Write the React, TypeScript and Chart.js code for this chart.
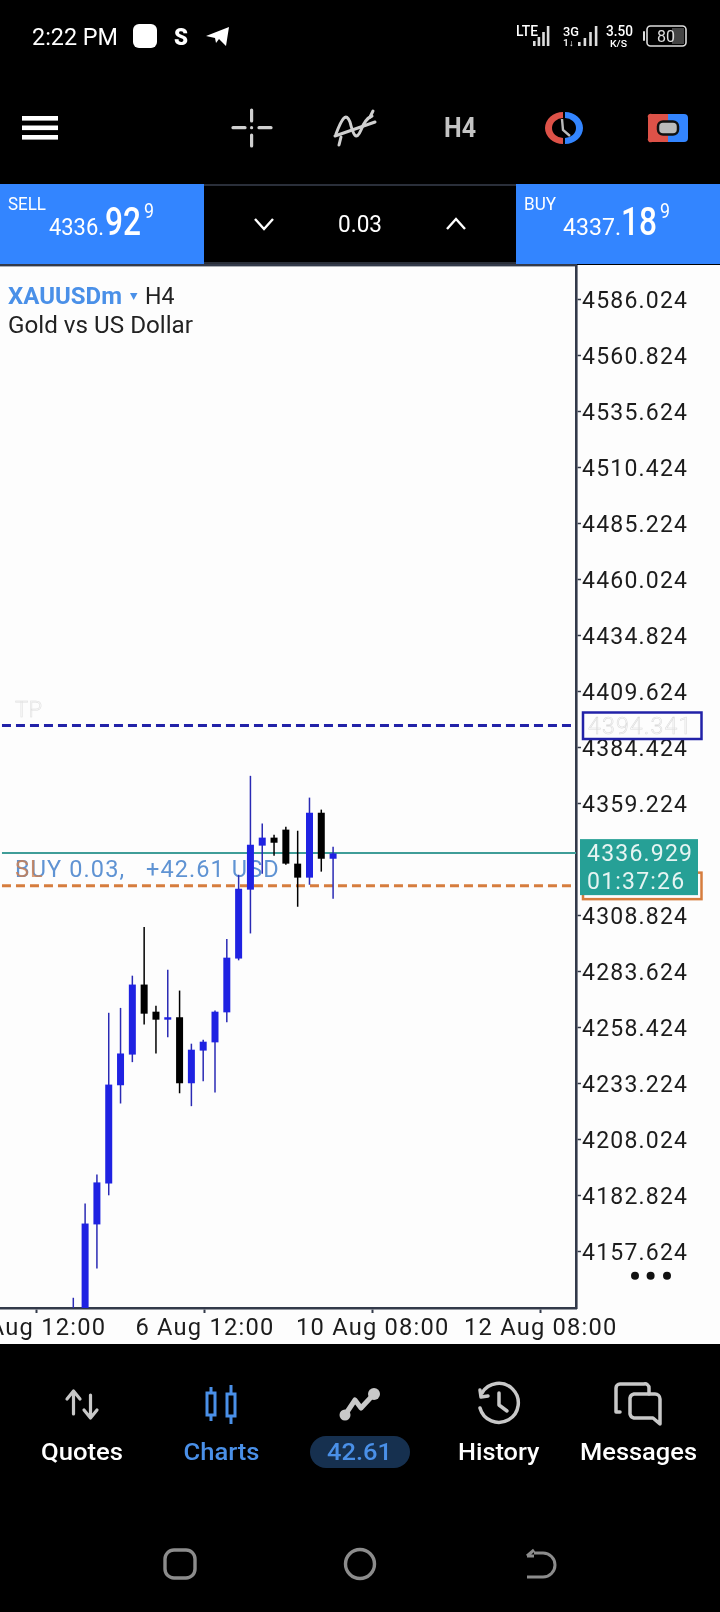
import React, { useEffect, useRef } from "react";
import { Chart, registerables } from "chart.js";

Chart.register(...registerables);

// ---- data ----
const barIndex = [0,1,2,3,4,5,6,7,8,9,10,11,12,13,14,15,16,17,18,19,20,21,22];
const opens  = [4120,4128,4169.9,4188.3,4232.5,4246.3,4277.8,4265.6,4262.0,4263.1,4233.4,4248.1,4251.8,4265.3,4289.5,4320.5,4340.3,4343.9,4347.5,4332.2,4325.9,4355.1,4334.4];
const closes = [4130,4170.3,4188.8,4232.8,4246.8,4277.8,4264.7,4262.0,4263.1,4233.4,4248.5,4252.1,4265.6,4289.9,4320.9,4340.7,4343.9,4341.6,4332.2,4325.9,4355.1,4334.4,4336.8];
const highs  = [4136.9,4179.3,4192.3,4265.1,4267.3,4281.8,4303.7,4268.3,4284.5,4275.1,4251.2,4253.0,4266.1,4298.3,4327.2,4371.7,4350.2,4345.2,4348.8,4347.0,4361.9,4356.5,4339.8];
const lows   = [4110,4120,4150.1,4183.0,4224.3,4242.9,4259.8,4246.8,4254.1,4228.9,4223.1,4234.3,4229.3,4260.8,4288.7,4300.8,4327.7,4335.8,4331.7,4312.8,4322.7,4328.6,4316.4];

const yTickValues = [4586.024,4560.824,4535.624,4510.424,4485.224,4460.024,4434.824,4409.624,4384.424,4359.224,4308.824,4283.624,4258.424,4233.224,4208.024,4182.824,4157.624];
const xTickValues = [-3.1,11.15,25.36,39.59];
const xTickLabels = ["4 Aug 12:00","6 Aug 12:00","10 Aug 08:00","12 Aug 08:00"];

const tpPrice = 4394.341;
const entryPrice = 4322.3;
const lastPrice = 4336.929;
const countdown = "01:37:26";
const positionLabel = "BUY 0.03,   +42.61 USD";

const yMin = 4132.3;
const yMax = 4601.5;
const xMin = -6.207;
const xMax = 42.57;
const lineStart = -6.04;

const BLUE_BODY = "#1f22e2";
const BLUE_WICK = "#2a2ab4";
const BLACK = "#000000";
const AXIS = "#333a4a";
const UI_BLUE = "#3385ff";
const ACCENT = "#4a90e8";
const GREY = "#c8c8c8";
const FONT = "Roboto, sans-serif";

const isUp = (i: number) => closes[i] >= opens[i];

const overlayPlugin = {
  id: "overlay",
  beforeDraw(chart: any) {
    chart.ctx.letterSpacing = "1.2px";
  },
  beforeDatasetsDraw(chart: any) {
    const { ctx, scales } = chart;
    const y = scales.y;
    ctx.save();
    ctx.letterSpacing = "0.4px";
    ctx.font = `300 22px ${FONT}`;
    ctx.textAlign = "left";
    ctx.textBaseline = "alphabetic";
    ctx.strokeStyle = "#e0e0e0";
    ctx.lineWidth = 0.6;
    ctx.strokeText("TP", 15, y.getPixelForValue(tpPrice) - 9);
    const by = y.getPixelForValue(lastPrice) + 24;
    ctx.fillStyle = "#5f93d3";
    ctx.letterSpacing = "1.1px";
    ctx.font = `23.5px ${FONT}`;
    ctx.fillText(positionLabel, 15, by);
    ctx.fillStyle = "rgba(214,125,70,0.75)";
    ctx.fillText("SL", 15, by);
    ctx.restore();
  },
  afterDraw(chart: any) {
    const { ctx, scales } = chart;
    const y = scales.y;
    ctx.save();
    ctx.textAlign = "left";
    ctx.textBaseline = "alphabetic";
    ctx.letterSpacing = "1.2px";
    ctx.font = `300 23px ${FONT}`;
    // take-profit box
    const tp = y.getPixelForValue(tpPrice);
    ctx.fillStyle = "#fdfdfd";
    ctx.fillRect(583, tp - 13, 118.5, 26.5);
    ctx.strokeStyle = "#2222a8";
    ctx.lineWidth = 2.5;
    ctx.strokeRect(583, tp - 13, 118.5, 26.5);
    ctx.strokeStyle = "#dcdcdc";
    ctx.lineWidth = 0.6;
    ctx.strokeText(tpPrice.toFixed(3), 588, tp + 8);
    // entry box
    const en = y.getPixelForValue(entryPrice);
    ctx.strokeStyle = "#d67d3e";
    ctx.lineWidth = 2.5;
    ctx.strokeRect(583, en - 13, 118.5, 26.5);
    // last-price box
    const la = y.getPixelForValue(lastPrice);
    ctx.font = `23px ${FONT}`;
    ctx.fillStyle = "#26a096";
    ctx.fillRect(580, la - 14, 118, 56);
    ctx.fillStyle = "#e6f4f2";
    ctx.fillText(lastPrice.toFixed(3), 587, la + 7.5);
    ctx.fillText(countdown, 587, la + 35.5);
    ctx.restore();
  },
};

function T(p: any) {
  const { x, y, w, size, fill = "#fff", weight = 400, anchor = "start", children } = p;
  return (
    <text
      x={x}
      y={y}
      fontFamily={FONT}
      fontSize={size}
      fill={fill}
      fontWeight={weight}
      textAnchor={anchor}
      {...(w ? { textLength: w, lengthAdjust: "spacingAndGlyphs" } : {})}
    >
      {children}
    </text>
  );
}

function Bars({ x, heights, base, w = 2.4, gap = 2 }: any) {
  return (
    <>
      {heights.map((h: number, i: number) => (
        <rect key={i} x={x + i * (w + gap)} y={base - h} width={w} height={h} fill="#ddd" />
      ))}
    </>
  );
}

function Chrome() {
  return (
    <svg width={720} height={1612} style={{ position: "absolute", left: 0, top: 0, pointerEvents: "none" }}>
      {/* status bar */}
      <T x={32} y={45} w={86} size={24}>2:22 PM</T>
      <rect x={133} y={24} width={24} height={24} rx={6} fill="#fff" />
      <T x={174} y={45} w={14} size={23} weight={900}>S</T>
      <path d="M206 36 L229 27 L226 46 L219 39 L216 43 L215 38 Z" fill="#fff" />
      <T x={516} y={36} w={22} size={14} weight={500}>LTE</T>
      <Bars x={533} base={46} heights={[5, 9, 14, 20]} w={2.6} gap={2} />
      <T x={563} y={36} w={16} size={13} weight={500}>3G</T>
      <T x={563} y={46} w={11} size={9} weight={500}>1↓</T>
      <Bars x={578} base={46} heights={[4, 8, 14, 20]} w={2.6} gap={3} />
      <T x={606} y={36} w={27} size={14} weight={500}>3.50</T>
      <T x={610} y={47} w={17} size={9} weight={500}>K/S</T>
      <rect x={647} y={26} width={39} height={20} rx={3.5} fill="none" stroke="#ddd" strokeWidth={1.6} />
      <rect x={672} y={28} width={12} height={16} fill="#444" />
      <rect x={643} y={31} width={2} height={10} rx={1} fill="#ddd" />
      <T x={666} y={42} anchor="middle" w={18} size={17} fill="#ddd">80</T>

      {/* toolbar */}
      <rect x={22} y={116} width={36} height={4.6} fill="#fff" />
      <rect x={22} y={125.5} width={36} height={4.6} fill="#fff" />
      <rect x={22} y={135} width={36} height={4.6} fill="#fff" />
      <g stroke="#d0d0d0" strokeWidth={3.2} strokeLinecap="round">
        <line x1={233} y1={127.7} x2={245} y2={127.7} />
        <line x1={259} y1={127.7} x2={271} y2={127.7} />
        <line x1={251.6} y1={110} x2={251.6} y2={121} />
        <line x1={251.6} y1={135} x2={251.6} y2={146} />
      </g>
      <circle cx={251.6} cy={127.7} r={1.6} fill="#d0d0d0" />
      <g fill="none" stroke="#d0d0d0" strokeWidth={3} strokeLinecap="round">
        <path d="M336 134 C342 118 346 112 350 122 C353 134 356 142 361 130 C364 122 367 118 372 116" />
        <line x1={335} y1={136} x2={375} y2={122} />
        <line x1={341} y1={137} x2={339} y2={145} />
        <line x1={370} y1={117} x2={373} y2={111} />
      </g>
      <T x={444} y={137} w={32} size={28} weight={700} fill="#c4c4c4">H4</T>
      <path d="M563 112 A18 16 0 0 0 563 144 L563 138 A11 10 0 0 1 563 118 Z" fill="#dd5248" />
      <path d="M565 112 A18 16 0 0 1 565 144 L565 138 A11 10 0 0 0 565 118 Z" fill="#3385ff" />
      <path d="M562 119 L563 130 L570 136" fill="none" stroke="#bbb" strokeWidth={2.4} />
      <path d="M652 114 H668 V142 H652 A3 3 0 0 1 648 138 V118 A3 3 0 0 1 652 114 Z" fill="#dd5248" />
      <path d="M668 114 H684 A4 4 0 0 1 688 118 V138 A4 4 0 0 1 684 142 H668 Z" fill="#3385ff" />
      <rect x={658} y={121.5} width={20} height={13} rx={5} fill="#bbb" stroke="#111" strokeWidth={2.5} />

      {/* trade bar */}
      <rect x={0} y={184} width={204} height={80} fill={UI_BLUE} />
      <rect x={516} y={184} width={204} height={80} fill={UI_BLUE} />
      <rect x={204} y={184} width={312} height={2} fill="#2a2f3a" />
      <rect x={204} y={262} width={312} height={3} fill="#2a2f3a" />
      <rect x={0} y={264} width={577} height={2.4} fill={AXIS} />
      <T x={8} y={210} w={38} size={19}>SELL</T>
      <T x={49} y={235} w={55} size={24}>4336.</T>
      <T x={105} y={235} w={36} size={39} weight={500}>92</T>
      <T x={144} y={218} w={10} size={20}>9</T>
      <T x={524} y={210} w={32} size={19}>BUY</T>
      <T x={563} y={235} w={58} size={24}>4337.</T>
      <T x={621} y={235} w={36} size={39} weight={500}>18</T>
      <T x={660} y={218} w={10} size={20}>9</T>
      <T x={338} y={232} w={44} size={23}>0.03</T>
      <path d="M255 219 L264 229 L273 219" fill="none" stroke="#fff" strokeWidth={2.4} />
      <path d="M447 229 L456 219 L465 229" fill="none" stroke="#fff" strokeWidth={2.4} />

      {/* chart heading */}
      <T x={8} y={304} w={114} size={23} weight={700} fill={ACCENT}>XAUUSDm</T>
      <path d="M130 293 H137.5 L133.7 300 Z" fill={ACCENT} />
      <T x={145} y={304} w={29.5} size={23} fill="#222">H4</T>
      <T x={8} y={333} w={185} size={23} fill="#222">Gold vs US Dollar</T>
      <circle cx={635} cy={1275.7} r={4} fill="#111" />
      <circle cx={650.6} cy={1275.7} r={4} fill="#111" />
      <circle cx={667} cy={1275.7} r={4} fill="#111" />

      {/* bottom nav */}
      <g stroke={GREY} fill="none" strokeWidth={3.2} strokeLinecap="round" strokeLinejoin="round">
        <path d="M73.5 1414 V1392 M67 1399 L73.5 1391 L80 1399" />
        <path d="M90.5 1395 V1417 M84 1410 L90.5 1418 L97 1410" />
      </g>
      <g fill="none" stroke={ACCENT} strokeWidth={3}>
        <rect x={207} y={1393} width={8} height={22} />
        <line x1={211} y1={1387} x2={211} y2={1393} />
        <line x1={211} y1={1415} x2={211} y2={1421} />
        <rect x={227} y={1394} width={8} height={22} />
        <line x1={231} y1={1385} x2={231} y2={1394} />
        <line x1={231} y1={1416} x2={231} y2={1424} />
      </g>
      <path d="M345 1415 L355 1400 L361 1408 L374 1394" fill="none" stroke={GREY} strokeWidth={5} strokeLinejoin="round" />
      <circle cx={345} cy={1415} r={5.5} fill={GREY} />
      <circle cx={374} cy={1394} r={6} fill={GREY} />
      <g fill="none" stroke={GREY} strokeWidth={3.5} strokeLinecap="round" strokeLinejoin="round">
        <path d="M482 1393 A19.5 19.5 0 1 1 480 1408" />
        <path d="M480 1390 L481 1397 L488 1396" />
        <path d="M499 1393 V1405 L507 1411" />
        <path d="M620 1412 H616 V1388 A4 4 0 0 1 620 1384 H644 A4 4 0 0 1 649 1388 V1394" />
        <path d="M634 1394 H655 A5 5 0 0 1 660 1399 V1424 L653 1418 H634 A5 5 0 0 1 630 1414 V1398 A5 5 0 0 1 634 1394 Z" />
      </g>
      <T x={41} y={1460} w={82} size={23} weight={500}>Quotes</T>
      <T x={183.5} y={1460} w={76} size={23} weight={500} fill={ACCENT}>Charts</T>
      <rect x={310} y={1436} width={100} height={32} rx={16} fill="#16304f" />
      <T x={327} y={1460} w={65} size={23} weight={500} fill={ACCENT}>42.61</T>
      <T x={458} y={1460} w={81.5} size={23} weight={500}>History</T>
      <T x={580} y={1460} w={117} size={23} weight={500}>Messages</T>

      {/* system nav */}
      <rect x={165} y={1550} width={30} height={28} rx={9} fill="none" stroke="#8c8c8c" strokeWidth={3.4} />
      <ellipse cx={360} cy={1564} rx={14.5} ry={14.5} fill="none" stroke="#8c8c8c" strokeWidth={3.4} />
      <path d="M534 1553 H543 A11 11 0 0 1 543 1577 H527 M527 1556 L534 1550 M527 1556 L534 1556" fill="none" stroke="#8c8c8c" strokeWidth={3} />
    </svg>
  );
}

export default function App() {
  const ref = useRef<HTMLCanvasElement | null>(null);

  useEffect(() => {
    if (!ref.current) return;
    const hline = (value: number, color: string, width: number, dash: number[]) => ({
      type: "line" as const,
      data: [{ x: lineStart, y: value }, { x: xMax, y: value }],
      borderColor: color,
      borderWidth: width,
      borderDash: dash,
      pointRadius: 0,
      order: 3,
    });
    const chart = new Chart(ref.current, {
      type: "bar",
      data: {
        datasets: [
          hline(tpPrice, "#2222a8", 3, [9, 5]),
          hline(entryPrice, "#d67d3e", 3, [9, 5]),
          hline(lastPrice, "#3f9d98", 2, []),
          {
            type: "bar" as const,
            data: barIndex.map((x, i) => ({ x, y: [lows[i], highs[i]] })),
            backgroundColor: barIndex.map((i) => (isUp(i) ? BLUE_WICK : BLACK)),
            maxBarThickness: 1.5,
            barPercentage: 1,
            categoryPercentage: 1,
            grouped: false,
            inflateAmount: 0,
            order: 2,
          },
          {
            type: "bar" as const,
            data: barIndex.map((x, i) => ({ x, y: [opens[i], closes[i]] })),
            backgroundColor: barIndex.map((i) => (isUp(i) ? BLUE_BODY : BLACK)),
            maxBarThickness: 7,
            barPercentage: 1,
            categoryPercentage: 1,
            grouped: false,
            inflateAmount: 0,
            order: 1,
          },
        ] as any,
      },
      options: {
        animation: false,
        responsive: false,
        devicePixelRatio: 1,
        layout: { autoPadding: false, padding: 0 },
        plugins: { legend: { display: false }, tooltip: { enabled: false } },
        scales: {
          x: {
            type: "linear",
            min: xMin,
            max: xMax,
            offset: false,
            afterBuildTicks: (axis: any) => {
              axis.ticks = xTickValues.map((value) => ({ value }));
            },
            afterFit: (axis: any) => {
              axis.height = 36;
              axis.paddingLeft = 0;
              axis.paddingRight = 0;
            },
            grid: { offset: false, drawOnChartArea: false, drawTicks: true, tickLength: 5, color: AXIS, tickWidth: 2 },
            border: { display: true, color: AXIS, width: 2.6 },
            ticks: {
              autoSkip: false,
              maxRotation: 0,
              minRotation: 0,
              padding: 2,
              color: "#1c1c1c",
              font: { family: FONT, size: 23.7 },
              callback: (_v: any, i: number) => xTickLabels[i],
            },
          },
          y: {
            type: "linear",
            position: "right",
            min: yMin,
            max: yMax,
            afterBuildTicks: (axis: any) => {
              axis.ticks = yTickValues.map((value) => ({ value }));
            },
            afterFit: (axis: any) => {
              axis.width = 144;
              axis.paddingTop = 0;
              axis.paddingBottom = 0;
            },
            grid: { drawOnChartArea: false, drawTicks: true, tickLength: 5, color: AXIS, tickWidth: 1.5 },
            border: { display: true, color: AXIS, width: 2.6 },
            ticks: {
              autoSkip: false,
              padding: 1,
              labelOffset: 3,
              color: "#1c1c1c",
              font: { family: FONT, size: 23 },
              callback: (v: any) => Number(v).toFixed(3),
            },
          },
        },
      } as any,
      plugins: [overlayPlugin],
    });
    return () => chart.destroy();
  }, []);

  return (
    <div style={{ position: "fixed", left: 0, top: 0, width: 720, height: 1612, background: "#000", overflow: "hidden" }}>
      <div style={{ position: "absolute", left: 0, top: 265, width: 720, height: 1079, background: "#fdfdfd" }}>
        <canvas ref={ref} width={720} height={1079} style={{ display: "block" }} />
      </div>
      <Chrome />
    </div>
  );
}
